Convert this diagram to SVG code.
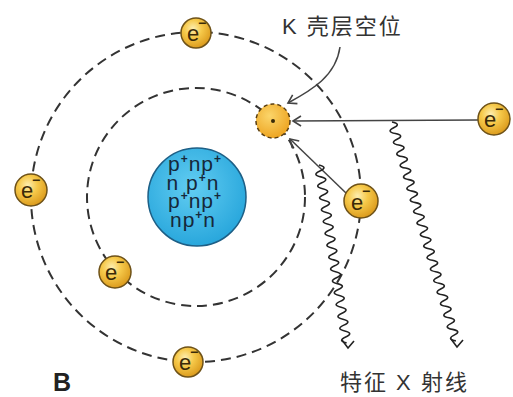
<svg xmlns="http://www.w3.org/2000/svg" width="513" height="397" viewBox="0 0 513 397">
  <defs>
    <radialGradient id="eGrad" cx="40%" cy="35%" r="65%">
      <stop offset="0" stop-color="#fdeeb0"/>
      <stop offset="0.45" stop-color="#f6c94a"/>
      <stop offset="1" stop-color="#dc9c1e"/>
    </radialGradient>
    <radialGradient id="vGrad" cx="40%" cy="35%" r="65%">
      <stop offset="0" stop-color="#fbd56a"/>
      <stop offset="1" stop-color="#eea624"/>
    </radialGradient>
    <radialGradient id="nGrad" cx="45%" cy="40%" r="60%">
      <stop offset="0" stop-color="#62cdf2"/>
      <stop offset="1" stop-color="#29a7dc"/>
    </radialGradient>
    <marker id="chev" viewBox="0 0 12 12" refX="10" refY="6" markerWidth="12" markerHeight="12" markerUnits="userSpaceOnUse" orient="auto">
      <path d="M2 1 L10 6 L2 11" fill="none" stroke="#444" stroke-width="1.6"/>
    </marker>
  </defs>
  <style>
    .orbit { fill: none; stroke: #333; stroke-width: 2; stroke-dasharray: 10 6; }
    .electron circle { fill: url(#eGrad); stroke: #6e5218; stroke-width: 1.5; }
    .etxt { font-family: "Liberation Sans", Arial, sans-serif; font-size: 22px; fill: #3a2a08; }
    .esup { font-family: "Liberation Sans", Arial, sans-serif; font-size: 14px; font-weight: bold; fill: #3a2a08; }
    .nuc { font-family: "Liberation Sans", Arial, sans-serif; font-size: 21px; letter-spacing: 1px; fill: #16283a; text-anchor: middle; }
    .sup { font-size: 12px; font-weight: bold; }
    .arrow { fill: none; stroke: #444; stroke-width: 1.5; }
    .wave { fill: none; stroke: #222; stroke-width: 1.6; }
    .label { font-family: "Liberation Sans", "Noto Sans CJK SC", sans-serif; font-size: 22px; letter-spacing: 2px; fill: #333; }
  </style>

  <rect width="513" height="397" fill="#ffffff"/>

  <!-- orbits -->
  <g id="orbits">
    <circle class="orbit" cx="196" cy="197" r="165"/>
    <circle class="orbit" cx="196" cy="197" r="109"/>
  </g>

  <!-- nucleus -->
  <g id="nucleus">
    <circle cx="197" cy="197" r="49" fill="url(#nGrad)" stroke="#1d5f86" stroke-width="1.5"/>
    <text class="nuc" x="195" y="171">p<tspan class="sup" dy="-8">+</tspan><tspan dy="8">np</tspan><tspan class="sup" dy="-8">+</tspan></text>
    <text class="nuc" x="193" y="190">n p<tspan class="sup" dy="-8">+</tspan><tspan dy="8">n</tspan></text>
    <text class="nuc" x="195" y="208">p<tspan class="sup" dy="-8">+</tspan><tspan dy="8">np</tspan><tspan class="sup" dy="-8">+</tspan></text>
    <text class="nuc" x="193" y="227">np<tspan class="sup" dy="-8">+</tspan><tspan dy="8">n</tspan></text>
  </g>

  <!-- connectors -->
  <g id="connectors">
    <path class="arrow" d="M340 47 C 336 76, 312 90, 288 103" marker-end="url(#chev)"/>
    <path class="arrow" d="M478 120 L 293 121" marker-end="url(#chev)"/>
    <path class="arrow" d="M346 193 L 290 139" marker-end="url(#chev)"/>
    <!-- wavy X-ray paths: repeated half-waves of 6px along the ray -->
    <path class="wave" d="M319 165 q 9.4 2.2 0.92 5.93 t 0.92 5.93 t 0.92 5.93 t 0.92 5.93 t 0.92 5.93 t 0.92 5.93 t 0.92 5.93 t 0.92 5.93 t 0.92 5.93 t 0.92 5.93 t 0.92 5.93 t 0.92 5.93 t 0.92 5.93 t 0.92 5.93 t 0.92 5.93 t 0.92 5.93 t 0.92 5.93 t 0.92 5.93 t 0.92 5.93 t 0.92 5.93 t 0.92 5.93 t 0.92 5.93 t 0.92 5.93 t 0.92 5.93 t 0.92 5.93 t 0.92 5.93 t 0.92 5.93 t 0.92 5.93 t 0.92 5.93 t 0.92 5.93"/>
    <path class="wave" d="M342 340 L 348 348 L 354 341"/>
    <path class="wave" d="M392 122 q 9.6 1.9 1.68 5.76 t 1.68 5.76 t 1.68 5.76 t 1.68 5.76 t 1.68 5.76 t 1.68 5.76 t 1.68 5.76 t 1.68 5.76 t 1.68 5.76 t 1.68 5.76 t 1.68 5.76 t 1.68 5.76 t 1.68 5.76 t 1.68 5.76 t 1.68 5.76 t 1.68 5.76 t 1.68 5.76 t 1.68 5.76 t 1.68 5.76 t 1.68 5.76 t 1.68 5.76 t 1.68 5.76 t 1.68 5.76 t 1.68 5.76 t 1.68 5.76 t 1.68 5.76 t 1.68 5.76 t 1.68 5.76 t 1.68 5.76 t 1.68 5.76 t 1.68 5.76 t 1.68 5.76 t 1.68 5.76 t 1.68 5.76 t 1.68 5.76 t 1.68 5.76 t 1.68 5.76 t 1.68 5.76"/>
    <path class="wave" d="M451 339 L 457 347 L 463 340"/>
  </g>

  <!-- electrons -->
  <g id="e-top" class="electron">
    <circle cx="196" cy="33" r="15"/>
    <text class="etxt" x="187" y="41">e</text><text class="esup" x="198" y="28">−</text>
  </g>
  <g id="e-left" class="electron">
    <circle cx="31" cy="190" r="16"/>
    <text class="etxt" x="21" y="198">e</text><text class="esup" x="32" y="185">−</text>
  </g>
  <g id="e-bottom" class="electron">
    <circle cx="188" cy="362" r="15"/>
    <text class="etxt" x="179" y="370">e</text><text class="esup" x="190" y="357">−</text>
  </g>
  <g id="e-inner" class="electron">
    <circle cx="115" cy="272" r="16"/>
    <text class="etxt" x="105" y="280">e</text><text class="esup" x="116" y="267">−</text>
  </g>
  <g id="e-right" class="electron">
    <circle cx="361" cy="201" r="17"/>
    <text class="etxt" x="351" y="210">e</text><text class="esup" x="362" y="196">−</text>
  </g>
  <g id="e-incoming" class="electron">
    <circle cx="494" cy="119" r="16"/>
    <text class="etxt" x="484" y="127">e</text><text class="esup" x="495" y="114">−</text>
  </g>

  <!-- K-shell vacancy -->
  <g id="vacancy">
    <circle cx="273" cy="121" r="17" fill="url(#vGrad)" stroke="#5a3e10" stroke-width="1.5" stroke-dasharray="4 3"/>
    <circle cx="273" cy="121" r="2" fill="#3a2a08"/>
  </g>

  <!-- labels -->
  <g id="labels">
    <text class="label" x="282" y="34">K 壳层空位</text>
    <text class="label" x="340" y="390">特征 X 射线</text>
    <text x="53" y="391" font-family="Liberation Sans, Arial, sans-serif" font-size="25" font-weight="bold" fill="#222">B</text>
  </g>
</svg>
